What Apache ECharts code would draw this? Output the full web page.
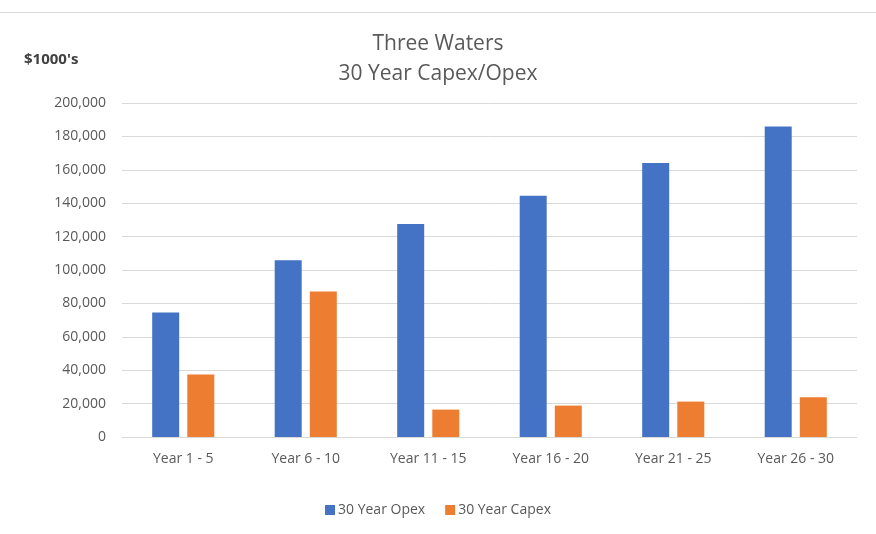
<!DOCTYPE html>
<html>
    <head>
        <meta charset="utf-8">
        <style>
            html, body { margin: 0; padding: 0; background: #fff; }
        </style>
    </head>
    <body>
        <div id="chart" style="width: 876px; height: 534px"></div>
        <script type="text/javascript" src="https://cdn.jsdelivr.net/npm/echarts@6/dist/echarts.min.js"></script>
        <script type="text/javascript">

            const periods = ['Year 1 - 5', 'Year 6 - 10', 'Year 11 - 15', 'Year 16 - 20', 'Year 21 - 25', 'Year 26 - 30'];
            const opex = [74500, 105800, 127500, 144500, 164000, 185900];
            const capex = [37400, 87200, 16400, 18800, 21200, 23800];
            const seriesNames = ['30 Year Opex', '30 Year Capex'];

            const font = '"Open Sans", "Noto Sans", sans-serif';
            const grey = '#595959';

            let myChart = echarts.init(document.getElementById('chart'));

            let option = {
                animation: false,
                textStyle: { fontFamily: font },
                title: {
                    text: 'Three Waters\n30 Year Capex/Opex',
                    left: 'center',
                    top: 24,
                    textStyle: {
                        fontFamily: font,
                        fontSize: 21,
                        fontWeight: 'normal',
                        color: grey,
                        lineHeight: 30
                    }
                },
                graphic: [
                    {
                        type: 'line',
                        shape: { x1: 0, y1: 12.5, x2: 876, y2: 12.5 },
                        style: { stroke: '#D9D9D9', lineWidth: 1 }
                    },
                    {
                        type: 'text',
                        left: 24,
                        top: 52,
                        style: {
                            text: "$1000's",
                            font: 'bold 15px ' + font,
                            fill: '#404040'
                        }
                    }
                ],
                legend: {
                    bottom: 12,
                    left: 'center',
                    itemWidth: 10,
                    itemHeight: 10,
                    itemGap: 20,
                    icon: 'rect',
                    textStyle: { fontFamily: font, fontSize: 14, color: grey, padding: [0, 0, 0, -2] },
                    data: seriesNames
                },
                grid: {
                    left: 122,
                    right: 19,
                    top: 103,
                    bottom: 97
                },
                xAxis: {
                    type: 'category',
                    data: periods,
                    axisTick: { show: false },
                    axisLine: { lineStyle: { color: '#D9D9D9', width: 1 } },
                    axisLabel: { fontFamily: font, fontSize: 14, color: grey, margin: 15 }
                },
                yAxis: {
                    type: 'value',
                    min: 0,
                    max: 200000,
                    interval: 20000,
                    axisLine: { show: false },
                    axisTick: { show: false },
                    splitLine: { lineStyle: { color: '#D9D9D9', width: 1 } },
                    axisLabel: {
                        fontFamily: font,
                        fontSize: 14,
                        color: grey,
                        margin: 16,
                        formatter: function (v) { return v.toLocaleString('en-US'); }
                    }
                },
                series: [
                    {
                        name: seriesNames[0],
                        type: 'bar',
                        data: opex,
                        barWidth: 27,
                        barGap: '30%',
                        itemStyle: { color: '#4472C4' }
                    },
                    {
                        name: seriesNames[1],
                        type: 'bar',
                        data: capex,
                        barWidth: 27,
                        itemStyle: { color: '#ED7D31' }
                    }
                ]
            };

            option && myChart.setOption(option);

        </script>
    </body>
</html>
